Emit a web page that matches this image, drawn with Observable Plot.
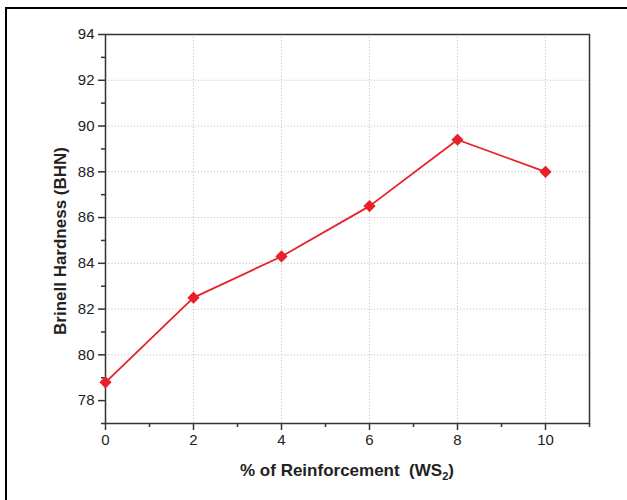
<!DOCTYPE html>
<html>
<head>
<meta charset="utf-8">
<script src="https://cdn.jsdelivr.net/npm/d3@7"></script>
<script src="https://cdn.jsdelivr.net/npm/@observablehq/plot@0.6"></script>
<style>
  body { margin: 0; background: white; }
  #wrap { position: relative; width: 627px; height: 500px; overflow: hidden; font-family: "Liberation Sans", Arial, sans-serif; }
  #border { position: absolute; left: 5px; top: 7px; width: 700px; height: 600px; border-left: 2.4px solid #000; border-top: 2.4px solid #000; pointer-events: none; }
  #xlabel { position: absolute; left: 105px; width: 484px; top: 462px; text-align: center; font-weight: bold; font-size: 17px; line-height: 17px; color: #222; white-space: pre; }
  #xlabel sub { font-size: 11px; vertical-align: -4px; line-height: 0; }
</style>
</head>
<body>
<div id="wrap">
  <div id="chart"></div>
  <div id="border"></div>
  <div id="xlabel">% of Reinforcement  (WS<sub>2</sub>)</div>
</div>
<script>
const reinforcement = [0, 2, 4, 6, 8, 10];
const hardness = [78.8, 82.5, 84.3, 86.5, 89.4, 88.0];
const xMajorTicks = [0, 2, 4, 6, 8, 10];
const xMinorTicks = [1, 3, 5, 7, 9, 11];
const yMajorTicks = [78, 80, 82, 84, 86, 88, 90, 92, 94];
const yMinorTicks = [77, 79, 81, 83, 85, 87, 89, 91, 93];
const xGridValues = [2, 4, 6, 8, 10];
const yGridValues = [80, 82, 84, 86, 88, 90, 92];
const yTitle = "Brinell Hardness (BHN)";

const data = reinforcement.map((x, i) => ({x, y: hardness[i]}));
const red = "#e8202a";
const axisColor = "#333";

const chart = Plot.plot({
  width: 627,
  height: 500,
  marginLeft: 105,
  marginRight: 38,
  marginTop: 34,
  marginBottom: 77,
  x: {domain: [0, 11]},
  y: {domain: [77, 94]},
  style: {fontFamily: '"Liberation Sans", Arial, sans-serif', fontSize: "15px", color: "#222", background: "white", overflow: "visible"},
  marks: [
    Plot.gridX(xGridValues, {stroke: "#c4c4c4", strokeOpacity: 1, strokeDasharray: "1.2,2"}),
    Plot.gridY(yGridValues, {stroke: "#c4c4c4", strokeOpacity: 1, strokeDasharray: "1.2,2"}),
    Plot.axisX(xMajorTicks, {tickSize: 7, tickPadding: 4, stroke: axisColor, strokeWidth: 1.5, label: null}),
    Plot.axisX(xMinorTicks, {tickSize: 4, tickFormat: () => "", stroke: axisColor, strokeWidth: 1.5, label: null}),
    Plot.axisY(yMajorTicks, {tickSize: 7, tickPadding: 4, stroke: axisColor, strokeWidth: 1.5, label: yTitle, labelAnchor: "center", labelOffset: 52}),
    Plot.axisY(yMinorTicks, {tickSize: 4, tickFormat: () => "", stroke: axisColor, strokeWidth: 1.5, label: null}),
    Plot.frame({stroke: axisColor, strokeWidth: 1.5}),
    Plot.line(data, {x: "x", y: "y", stroke: red, strokeWidth: 1.8}),
    Plot.dot(data, {x: "x", y: "y", symbol: "diamond2", r: 5.5, fill: red, stroke: "none"})
  ]
});
document.getElementById("chart").appendChild(chart);
// style the y-axis title bold, drop the automatic arrow, and nudge it down
chart.querySelectorAll("g[aria-label='y-axis label']").forEach(g => {
  g.setAttribute("font-weight", "bold");
  g.setAttribute("font-size", "17px");
  const tr = g.getAttribute("transform") || "";
  g.setAttribute("transform", `translate(0,12) ${tr}`);
  g.querySelectorAll("text").forEach(t => { t.textContent = yTitle; });
});
</script>
</body>
</html>
